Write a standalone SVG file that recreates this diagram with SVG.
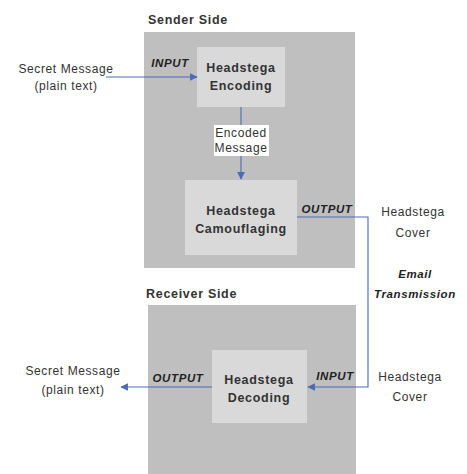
<svg xmlns="http://www.w3.org/2000/svg" width="467" height="474" viewBox="0 0 467 474">
<style>
.panel{fill:#bfbfbf}
.box{fill:#d9d9d9}
.t{font-family:"Liberation Sans",Arial,sans-serif;font-size:12px;fill:#333;text-anchor:middle;letter-spacing:0.6px}
.b{font-weight:bold;font-size:12.5px;letter-spacing:0.7px}
.lbl{font-family:"Liberation Sans",Arial,sans-serif;font-size:11.5px;font-weight:bold;font-style:italic;fill:#222;text-anchor:middle;letter-spacing:0.6px}
.ln{fill:none;stroke:#4a6cb3;stroke-width:1.1}
</style>
<defs>
<marker id="ah" viewBox="0 0 10 10" refX="9" refY="5" markerWidth="7" markerHeight="7" orient="auto">
<path d="M0,0 L10,5 L0,10 z" fill="#4a6cb3"/>
</marker>
</defs>
<rect width="467" height="474" fill="#fff"/>
<g id="sender-panel">
<rect class="panel" x="144" y="32" width="211" height="236"/>
<text class="t b" x="148" y="24" style="text-anchor:start">Sender Side</text>
</g>
<g id="receiver-panel">
<rect class="panel" x="148" y="305" width="208" height="169"/>
<text class="t b" x="146" y="298" style="text-anchor:start">Receiver Side</text>
</g>
<g id="encoding">
<rect class="box" x="197" y="47" width="88" height="60"/>
<text class="t b" x="241" y="72">Headstega</text>
<text class="t b" x="241" y="90">Encoding</text>
</g>
<g id="encoded-message">
<rect x="214" y="125" width="55" height="31" fill="#fff"/>
<text class="t" x="241" y="137" font-size="10" letter-spacing="0">Encoded</text>
<text class="t" x="241" y="152" font-size="10" letter-spacing="0">Message</text>
</g>
<g id="camouflaging">
<rect class="box" x="185" y="180" width="112" height="75"/>
<text class="t b" x="241" y="215">Headstega</text>
<text class="t b" x="241" y="233">Camouflaging</text>
</g>
<g id="decoding">
<rect class="box" x="212" y="350" width="95" height="73"/>
<text class="t b" x="259" y="384">Headstega</text>
<text class="t b" x="259" y="402">Decoding</text>
</g>
<g id="secret-in">
<text class="t" x="66" y="73">Secret Message</text>
<text class="t" x="66" y="90">(plain text)</text>
</g>
<g id="cover-top">
<text class="t" x="413" y="216">Headstega</text>
<text class="t" x="413" y="237">Cover</text>
</g>
<g id="email">
<text class="lbl" x="415" y="278">Email</text>
<text class="lbl" x="415" y="298">Transmission</text>
</g>
<g id="cover-bottom">
<text class="t" x="410" y="381">Headstega</text>
<text class="t" x="410" y="401">Cover</text>
</g>
<g id="secret-out">
<text class="t" x="73" y="375">Secret Message</text>
<text class="t" x="73" y="394">(plain text)</text>
</g>
<g id="labels">
<text class="lbl" x="170" y="67">INPUT</text>
<text class="lbl" x="327" y="213">OUTPUT</text>
<text class="lbl" x="335" y="380">INPUT</text>
<text class="lbl" x="178" y="382">OUTPUT</text>
</g>
<g id="connectors">
<line class="ln" x1="106" y1="77" x2="197" y2="77" marker-end="url(#ah)"/>
<line class="ln" x1="241" y1="107" x2="241" y2="125" stroke="#888"/>
<line class="ln" x1="241" y1="156" x2="241" y2="179" marker-end="url(#ah)"/>
<polyline class="ln" points="297,217 368,217 368,387 308,387" marker-end="url(#ah)"/>
<line class="ln" x1="212" y1="387" x2="121" y2="387" marker-end="url(#ah)"/>
</g>
</svg>
